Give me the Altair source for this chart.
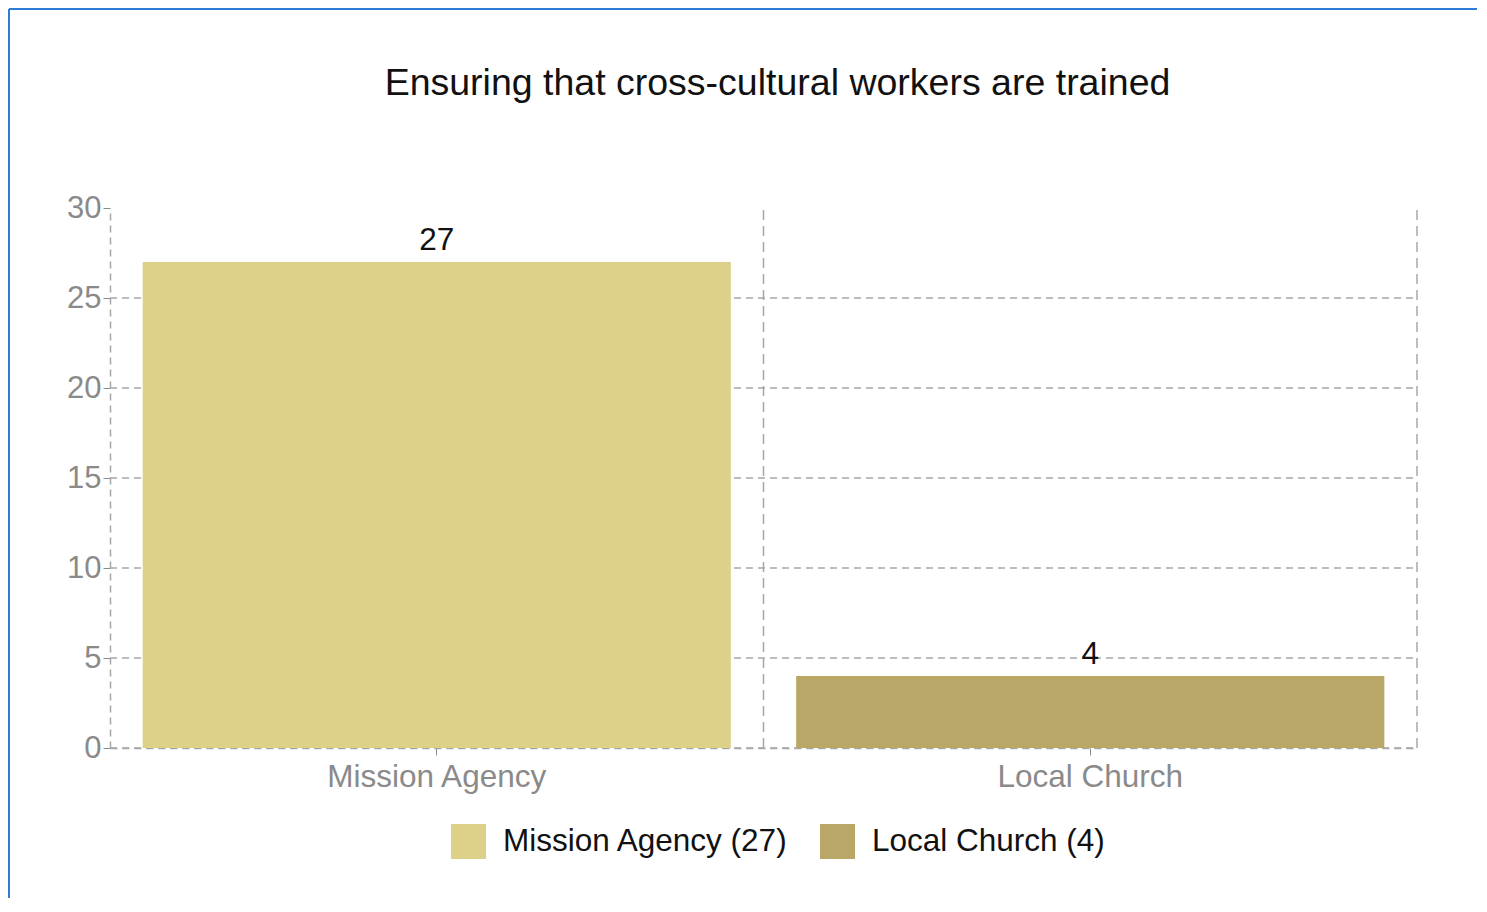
import altair as alt
import pandas as pd

categories = ["Mission Agency", "Local Church"]
values = [27, 4]
colors = ["#ddd189", "#b9a767"]
y_ticks = [0, 5, 10, 15, 20, 25, 30]
grid_values = [0, 5, 10, 15, 20, 25]
title_text = "Ensuring that cross-cultural workers are trained"

legend_labels = [f"{c} ({v})" for c, v in zip(categories, values)]
df = pd.DataFrame({"cat": categories, "value": values, "legend": legend_labels})

FONT = "Liberation Sans"
GRID = "#a6a6a6"
LABEL = "#8a8a8a"
W, H = 1307, 540
HALF_GAP = 0.05 * W / 2  # half of the inner padding between bands

xscale = alt.Scale(domain=categories, paddingInner=0.1, paddingOuter=0.05)
yscale = alt.Scale(domain=[0, 30], nice=False)

x_axis = alt.Axis(labelAngle=0, labelAlign="center", labelBaseline="top",
                  labelFont=FONT, labelFontSize=31.5, labelLimit=0,
                  labelColor=LABEL, labelPadding=6, bandPosition=0.5,
                  domainColor=GRID, domainDash=[7, 5], domainWidth=1.5,
                  tickColor=LABEL, tickSize=7, grid=False)
y_axis = alt.Axis(values=y_ticks, labelFont=FONT, labelFontSize=31,
                  labelColor=LABEL, labelPadding=2,
                  domainColor=GRID, domainDash=[7, 5], domainWidth=1.5,
                  tickColor=LABEL, tickSize=7, grid=False)

base = alt.Chart(df)

bars = base.mark_bar().encode(
    x=alt.X("cat:N", scale=xscale, sort=categories, title=None, axis=x_axis),
    y=alt.Y("value:Q", scale=yscale, title=None, axis=y_axis),
    color=alt.Color("legend:N", scale=alt.Scale(domain=legend_labels, range=colors),
                    sort=legend_labels,
                    legend=alt.Legend(title=None, orient="none", legendX=341, legendY=616,
                                      direction="horizontal", symbolType="square",
                                      symbolSize=1225, symbolStrokeWidth=0, labelLimit=0,
                                      labelFont=FONT, labelFontSize=31.5, labelColor="#111111",
                                      labelOffset=17, columnPadding=31, padding=0)),
)

labels = base.mark_text(baseline="bottom", dy=-5, font=FONT, fontSize=31.5, color="#111111").encode(
    x=alt.X("cat:N", scale=xscale, sort=categories, title=None, axis=x_axis),
    y=alt.Y("value:Q", scale=yscale, title=None, axis=y_axis),
    text=alt.Text("value:Q"),
)

grid_df = pd.DataFrame({"g": grid_values})
hgrid = alt.Chart(grid_df).mark_rule(color=GRID, strokeDash=[7, 5], strokeWidth=1.5).encode(
    y=alt.Y("g:Q", scale=yscale, title=None, axis=y_axis), x=alt.value(0), x2=alt.value(W),
)

div_df = pd.DataFrame({"cat": [categories[1]]})
mid_rule = alt.Chart(div_df).mark_rule(color=GRID, strokeDash=[10, 6], strokeWidth=1.5,
                                       xOffset=-HALF_GAP).encode(
    x=alt.X("cat:N", scale=xscale, sort=categories, bandPosition=0, title=None, axis=x_axis),
    y=alt.datum(0), y2=alt.datum(30),
)
right_rule = alt.Chart(div_df).mark_rule(color=GRID, strokeDash=[10, 6], strokeWidth=1.5,
                                         xOffset=HALF_GAP).encode(
    x=alt.X("cat:N", scale=xscale, sort=categories, bandPosition=1, title=None, axis=x_axis),
    y=alt.datum(0), y2=alt.datum(30),
)

one = pd.DataFrame({"t": [title_text]})
title = alt.Chart(one).mark_text(font=FONT, fontSize=37.5, color="#111111",
                                 align="center", baseline="alphabetic").encode(
    text="t:N", x=alt.value(W / 2 + 14), y=alt.value(-113))
border_left = alt.Chart(one).mark_rule(color="#2f7bd8", strokeWidth=2, clip=False).encode(
    x=alt.value(-101), y=alt.value(-199), y2=alt.value(H + 160))
border_top = alt.Chart(one).mark_rule(color="#2f7bd8", strokeWidth=2, clip=False).encode(
    x=alt.value(-101), x2=alt.value(W + 80), y=alt.value(-199))

chart = alt.layer(hgrid, mid_rule, right_rule, bars, labels, title, border_left, border_top).properties(
    width=W, height=H,
    autosize=alt.AutoSizeParams(type="none"),
    padding={"left": 102, "top": 200, "right": 60, "bottom": 150},
).configure_view(stroke=None)

chart.save("out.html", embed_options={"renderer": "svg", "actions": False})
